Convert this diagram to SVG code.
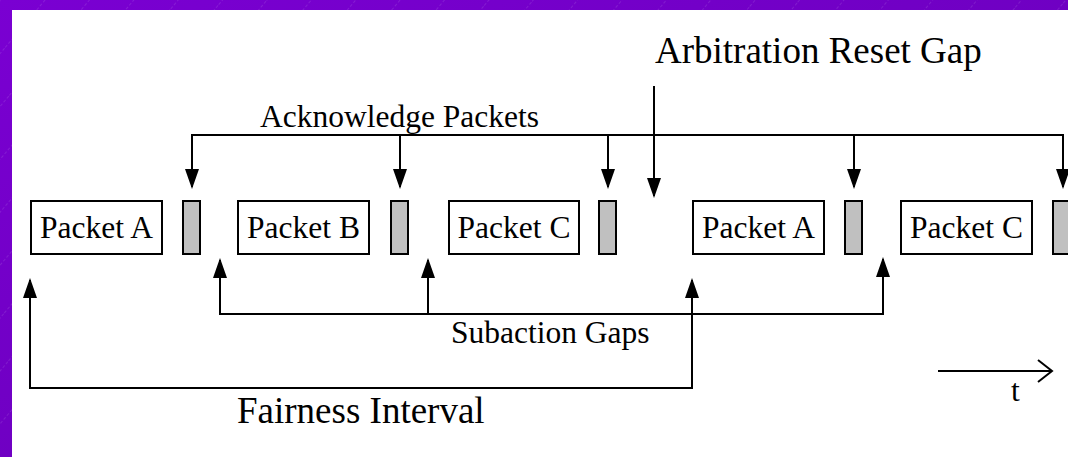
<svg xmlns="http://www.w3.org/2000/svg" width="1068" height="457" viewBox="0 0 1068 457">
  <defs>
    <linearGradient id="bg" x1="0" y1="0" x2="1" y2="1">
      <stop offset="0" stop-color="#7a00d2"/>
      <stop offset="1" stop-color="#6500b4"/>
    </linearGradient>
    <pattern id="hatch" width="34" height="34" patternUnits="userSpaceOnUse" patternTransform="rotate(40)">
      <line x1="0" y1="0" x2="0" y2="34" stroke="#ffffff" stroke-opacity="0.28" stroke-width="0.8" stroke-dasharray="3 2"/>
    </pattern>
    <marker id="ah" viewBox="0 0 20 14" refX="18" refY="7" markerWidth="20" markerHeight="14" markerUnits="userSpaceOnUse" orient="auto">
      <path d="M0,0 L20,7 L0,14 Z" fill="#000"/>
    </marker>
    <style>
      .pk { fill: #ffffff; stroke: #000; stroke-width: 2; }
      .ack { fill: #c0c0c0; stroke: #000; stroke-width: 2; }
      .ln { fill: none; stroke: #000; stroke-width: 2; }
      .arr { fill: none; stroke: #000; stroke-width: 2; marker-end: url(#ah); }
      .t { font-family: "Liberation Serif", "Times New Roman", serif; fill: #000; }
      .s { font-size: 31.5px; }
      .l { font-size: 37px; }
      .c { text-anchor: middle; }
    </style>
  </defs>

  <rect x="0" y="0" width="1068" height="457" fill="url(#bg)"/>
  <rect x="0" y="0" width="1068" height="457" fill="url(#hatch)"/>
  <rect x="12" y="10" width="1056" height="447" fill="#ffffff"/>

  <g id="packet-a1">
    <rect class="pk" x="31" y="201" width="131" height="53"/>
    <text class="t s c" x="96.5" y="238">Packet A</text>
  </g>
  <g id="ack-1"><rect class="ack" x="183" y="201" width="17" height="53"/></g>
  <g id="packet-b">
    <rect class="pk" x="238" y="201" width="131" height="53"/>
    <text class="t s c" x="303.5" y="238">Packet B</text>
  </g>
  <g id="ack-2"><rect class="ack" x="391" y="201" width="17" height="53"/></g>
  <g id="packet-c1">
    <rect class="pk" x="449" y="201" width="130" height="53"/>
    <text class="t s c" x="514" y="238">Packet C</text>
  </g>
  <g id="ack-3"><rect class="ack" x="599" y="201" width="17" height="53"/></g>
  <g id="packet-a2">
    <rect class="pk" x="693" y="201" width="131" height="53"/>
    <text class="t s c" x="758.5" y="238">Packet A</text>
  </g>
  <g id="ack-4"><rect class="ack" x="845" y="201" width="17" height="53"/></g>
  <g id="packet-c2">
    <rect class="pk" x="901" y="201" width="131" height="53"/>
    <text class="t s c" x="966.5" y="238">Packet C</text>
  </g>
  <g id="ack-5"><rect class="ack" x="1053" y="201" width="17" height="53"/></g>

  <g id="labels">
    <text class="t l" x="655" y="63">Arbitration Reset Gap</text>
    <text class="t s" x="260" y="127">Acknowledge Packets</text>
    <text class="t s" x="451" y="343">Subaction Gaps</text>
    <text class="t l" x="237" y="423">Fairness Interval</text>
    <text class="t s" x="1011" y="401">t</text>
  </g>

  <g id="connectors">
    <!-- acknowledge packets -->
    <path class="ln" d="M192,135 H1063"/>
    <path class="arr" d="M192,134 V187"/>
    <path class="arr" d="M400,135 V187"/>
    <path class="arr" d="M608,135 V187"/>
    <path class="arr" d="M854,135 V187"/>
    <path class="arr" d="M1063,134 V187"/>
    <!-- arbitration reset gap -->
    <path class="arr" d="M654,86 V196"/>
    <!-- subaction gaps -->
    <path class="ln" d="M220,314 H883"/>
    <path class="arr" d="M220,315 V260"/>
    <path class="arr" d="M428,314 V260"/>
    <path class="arr" d="M883,315 V259"/>
    <!-- fairness interval -->
    <path class="ln" d="M30,388 H692"/>
    <path class="arr" d="M30,389 V280"/>
    <path class="arr" d="M692,389 V280"/>
    <!-- time axis -->
    <path class="ln" d="M938,371 H1051"/>
    <polyline class="ln" points="1038,360 1052,371 1038,382"/>
  </g>
</svg>
